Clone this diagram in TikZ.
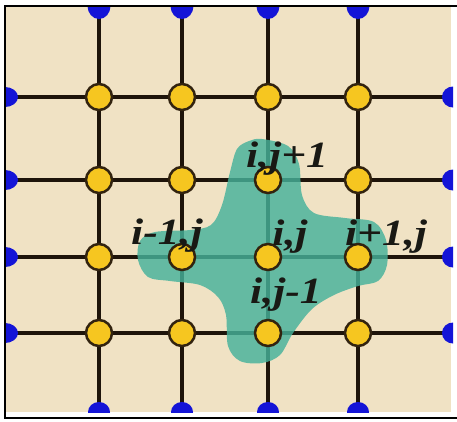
\documentclass[tikz,border=0pt]{standalone}
\usepackage{fontspec}
\setmainfont{Liberation Serif}
\newfontfamily\lblfont[FakeStretch=1.18]{Liberation Serif}
\definecolor{bgbeige}{RGB}{240,226,196}
\definecolor{linecol}{RGB}{30,20,10}
\definecolor{nodefill}{RGB}{246,198,32}
\definecolor{nodeedge}{RGB}{50,35,15}
\definecolor{bluedot}{RGB}{20,20,215}
\definecolor{tealblob}{RGB}{70,178,155}
\definecolor{labelcol}{RGB}{25,25,20}
\begin{document}
\begin{tikzpicture}[x=1pt,y=-1pt,
  gridline/.style={line width=3.5pt, color=linecol},
  gnode/.style={circle, draw=nodeedge, line width=2.5pt, fill=nodefill, minimum size=26pt, inner sep=0pt},
  lbl/.style={font=\lblfont\fontsize{37}{37}\selectfont\bfseries\itshape, anchor=base, inner sep=0pt, text=labelcol},
  blob/.style={fill=tealblob, fill opacity=0.82}]
\useasboundingbox (0,0) rectangle (457,421);
\fill[white] (0,0) rectangle (457,421);
\fill[bgbeige] (6,6) rectangle (451,412);
% boundary coordinates
\foreach \i/\x in {1/99,2/182,3/268,4/358} {
  \coordinate (t\i) at (\x,6);
  \coordinate (b\i) at (\x,412);
}
\foreach \j/\y in {1/97,2/180,3/257,4/333} {
  \coordinate (l\j) at (5,\y);
  \coordinate (r\j) at (453,\y);
}
% grid lines
\foreach \k in {1,2,3,4} {
  \draw[gridline] (t\k) -- (b\k);
  \draw[gridline] (l\k) -- (r\k);
}
% blue boundary dots
\begin{scope}
\clip (5,6) rectangle (453,412);
\foreach \k in {1,2,3,4} {
  \fill[bluedot] (t\k) ellipse [x radius=11.5, y radius=13];
  \fill[bluedot] (b\k) ellipse [x radius=11, y radius=10];
  \fill[bluedot] (l\k) ellipse [x radius=13, y radius=10];
  \fill[bluedot] (r\k) ellipse [x radius=11, y radius=10.5];
}
\end{scope}
% teal stencil shape
\path[blob] plot[smooth cycle, tension=0.55] coordinates {
  (262,139) (288,146) (299,164) (302,195) (314,213) (345,218) (374,222)
  (386,240) (387,265) (378,281) (358,286) (334,295) (312,309) (293,333)
  (280,355) (262,363) (240,361) (228,346) (226,315) (218,297) (200,285)
  (170,281) (148,277) (138,260) (140,241) (155,232) (190,230) (211,225)
  (222,205) (230,172) (237,149) (249,141)};
% grid nodes
\foreach \i/\x in {1/99,2/182,3/268,4/358} {
  \foreach \j/\y in {1/97,2/180,3/257,4/333} {
    \node[gnode] (n\i\j) at (\x,\y) {};
  }
}
% labels
\node[lbl] (lup) at (287,167) {i,j+1};
\node[lbl] (lleft) at (167,244) {i-1,j};
\node[lbl] (lc) at (290,245) {i,j};
\node[lbl] (lright) at (386,245) {i+1,j};
\node[lbl] (ldown) at (286,303) {i,j-1};
% frame
\draw[line width=2pt, color=black] (457,6) -- (5,6) -- (5,418) -- (457,418);
\end{tikzpicture}
\end{document}
